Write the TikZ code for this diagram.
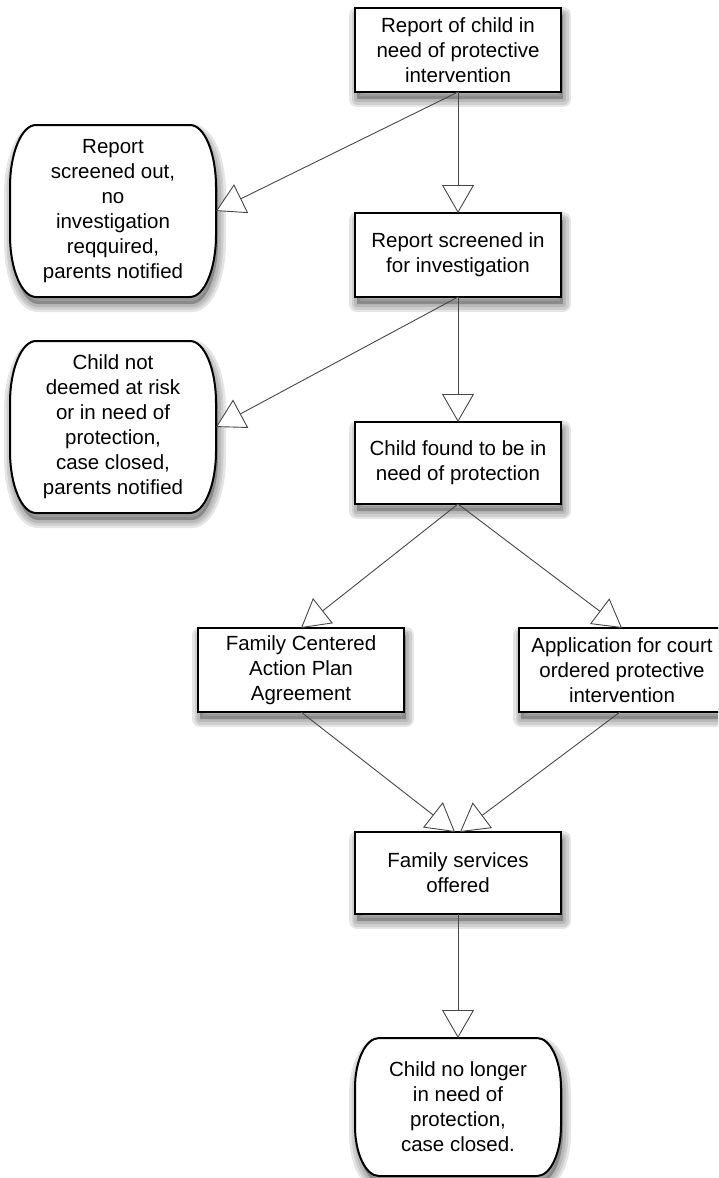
\documentclass[tikz,border=0pt]{standalone}
\usepackage{fontspec}
\setmainfont{Liberation Sans}
\usetikzlibrary{arrows.meta,calc}

\tikzset{
  x=1pt, y=-1pt,
  txt/.style={inner sep=0pt, outer sep=0pt, align=center,
    font=\fontsize{20.5}{25}\selectfont},
  boxnode/.style={txt, draw=black, fill=white, line width=2pt},
  barnode/.style={txt},
  barline/.style={draw=black, fill=white, line width=2pt},
  shadowfill/.style={fill=black, opacity=0.25, shift={(2,7)}},
  shadowline/.style={draw=black, opacity=0.1, line width=#1, line join=round, shift={(2,7)}},
  arr/.style={draw=black!72, line width=0.9pt,
    -{Triangle[length=28pt, width=32pt, fill=white, line join=miter]}},
}

% geometry of a shape: cx, cy, w, h, rx, ry
\newcommand\setgeom[6]{%
  \pgfmathsetmacro\qL{#1-#3/2}\pgfmathsetmacro\qR{#1+#3/2}%
  \pgfmathsetmacro\qT{#2-#4/2}\pgfmathsetmacro\qB{#2+#4/2}%
  \pgfmathsetmacro\qx{#5}\pgfmathsetmacro\qy{#6}%
  \pgfmathsetmacro\qkx{0.5523*#5}\pgfmathsetmacro\qky{0.5523*#6}%
}
\newcommand\barrelpath[1]{%
  \path[#1] (\qL+\qx,\qT) -- (\qR-\qx,\qT)
    .. controls (\qR-\qx+\qkx,\qT) and (\qR,\qT+\qy-\qky) .. (\qR,\qT+\qy)
    -- (\qR,\qB-\qy)
    .. controls (\qR,\qB-\qy+\qky) and (\qR-\qx+\qkx,\qB) .. (\qR-\qx,\qB)
    -- (\qL+\qx,\qB)
    .. controls (\qL+\qx-\qkx,\qB) and (\qL,\qB-\qy+\qky) .. (\qL,\qB-\qy)
    -- (\qL,\qT+\qy)
    .. controls (\qL,\qT+\qy-\qky) and (\qL+\qx-\qkx,\qT) .. (\qL+\qx,\qT)
    -- cycle;
}
% shadow of a shape: cx, cy, w, h, rx, ry (rx=ry=0 gives a rectangle)
\newcommand\softshadow[6]{%
  \setgeom{#1}{#2}{#3}{#4}{#5}{#6}%
  \barrelpath{shadowfill}%
  \foreach \w in {16pt,11pt,6pt}{\barrelpath{shadowline=\w}}%
}
% barrel shaped terminal: name, cx, cy, w, h, rx, ry, text
\newcommand\barrelshape[8]{%
  \setgeom{#2}{#3}{#4}{#5}{#6}{#7}%
  \barrelpath{barline}%
  \node[barnode, minimum width=#4pt, minimum height=#5pt] (#1) at (#2,#3) {#8};
}
% rectangular step: name, cx, cy, w, h, text
\newcommand\stepshape[6]{%
  \node[boxnode, minimum width=#4pt, minimum height=#5pt] (#1) at (#2,#3) {#6};
}

\begin{document}
\begin{tikzpicture}
\useasboundingbox (0,0) rectangle (718,1178);
\clip (0,0) rectangle (718,1178);

% shadows
\softshadow{458}{50}{206}{84}{0}{0}
\softshadow{113}{211}{206}{172}{26}{62}
\softshadow{458}{255}{206}{84}{0}{0}
\softshadow{113}{427}{206}{172}{26}{62}
\softshadow{458}{463}{206}{82}{0}{0}
\softshadow{301}{670}{206}{84}{0}{0}
\softshadow{622}{670}{206}{84}{0}{0}
\softshadow{458}{873}{206}{82}{0}{0}
\softshadow{458}{1107}{206}{138}{24}{50}

% shapes
\stepshape{b1}{458}{50}{206}{84}{Report of child in\\need of protective\\intervention}
\barrelshape{r1}{113}{211}{206}{172}{26}{62}{Report\\screened out,\\no\\investigation\\reqquired,\\parents notified}
\stepshape{b2}{458}{255}{206}{84}{Report screened in\\for investigation}
\barrelshape{r2}{113}{427}{206}{172}{26}{62}{Child not\\deemed at risk\\or in need of\\protection,\\case closed,\\parents notified}
\stepshape{b3}{458}{463}{206}{82}{Child found to be in\\need of protection}
\stepshape{b4}{301}{670}{206}{84}{Family Centered\\Action Plan\\Agreement}
\stepshape{b5}{622}{670}{206}{84}{Application for court\\ordered protective\\intervention}
\stepshape{b6}{458}{873}{206}{82}{Family services\\offered}
\barrelshape{r3}{458}{1107}{206}{138}{24}{50}{Child no longer\\in need of\\protection,\\case closed.}

% connectors
\draw[arr] (b1.south) -- (r1.east);
\draw[arr] (b1.south) -- (b2.north);
\draw[arr] (b2.south) -- (r2.east);
\draw[arr] (b2.south) -- (b3.north);
\draw[arr] (b3.south) -- (b4.north);
\draw[arr] (b3.south) -- (b5.north);
\draw[arr] (b4.south) -- ($(b6.north)+(-3,0)$);
\draw[arr] ($(b5.south)+(-2,0)$) -- ($(b6.north)+(2,0)$);
\draw[arr] (b6.south) -- (r3.north);
\end{tikzpicture}
\end{document}
